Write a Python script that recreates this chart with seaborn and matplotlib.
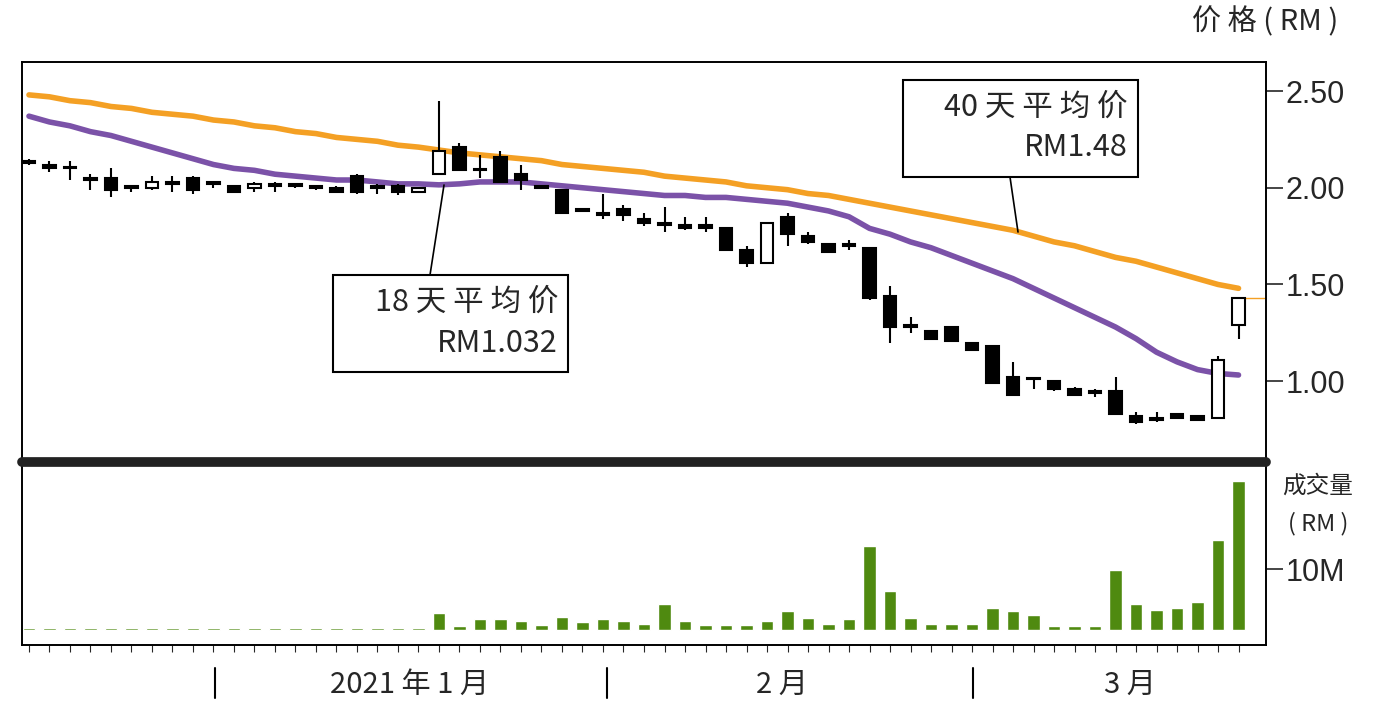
import numpy as np
import pandas as pd
import matplotlib
matplotlib.use("Agg")
import matplotlib.pyplot as plt
import seaborn as sns

opens  = [2.14,2.12,2.10,2.04,2.05,2.00,2.00,2.02,2.05,2.02,2.01,2.00,2.01,2.01,2.00,2.00,2.06,2.00,2.01,1.98,
          2.07,2.21,2.09,2.16,2.07,2.00,1.99,1.88,1.87,1.89,1.84,1.82,1.81,1.81,1.79,1.68,1.61,1.85,1.75,1.71,
          1.70,1.69,1.44,1.28,1.26,1.28,1.20,1.18,1.02,1.01,1.00,0.96,0.94,0.95,0.82,0.80,0.83,0.82,0.81,1.29]
closes = [2.13,2.10,2.10,2.04,1.99,2.00,2.03,2.02,1.99,2.02,1.98,2.02,2.02,2.01,2.00,1.98,1.98,2.00,1.98,2.00,
          2.19,2.09,2.09,2.03,2.04,2.00,1.87,1.88,1.86,1.86,1.82,1.81,1.79,1.79,1.68,1.61,1.82,1.76,1.72,1.67,
          1.70,1.43,1.28,1.28,1.22,1.21,1.16,0.99,0.93,1.01,0.96,0.93,0.94,0.83,0.79,0.80,0.81,0.80,1.11,1.43]
highs  = [2.15,2.14,2.14,2.07,2.10,2.01,2.06,2.06,2.06,2.03,2.01,2.03,2.03,2.02,2.01,2.01,2.07,2.02,2.02,2.00,
          2.45,2.23,2.17,2.19,2.12,2.00,1.99,1.88,1.97,1.91,1.87,1.90,1.85,1.85,1.79,1.70,1.82,1.87,1.77,1.71,
          1.73,1.69,1.49,1.33,1.26,1.28,1.20,1.18,1.10,1.02,1.00,0.97,0.96,1.02,0.84,0.84,0.83,0.82,1.13,1.43]
lows   = [2.12,2.08,2.04,1.99,1.95,1.98,1.99,1.98,1.97,2.00,1.98,1.98,1.98,2.00,1.99,1.98,1.97,1.97,1.96,1.98,
          2.07,2.09,2.05,2.03,1.99,2.00,1.87,1.88,1.84,1.83,1.80,1.77,1.78,1.77,1.68,1.59,1.61,1.70,1.71,1.67,
          1.68,1.42,1.20,1.25,1.22,1.21,1.16,0.99,0.93,0.96,0.95,0.93,0.92,0.83,0.78,0.79,0.81,0.80,0.81,1.22]
volume = [0.3,0.3,0.4,0.3,0.3,0.3,0.3,0.3,0.3,0.3,0.3,0.3,0.3,0.3,0.3,0.3,0.3,0.3,0.3,0.3,
          2.8,0.7,1.8,1.8,1.6,0.8,2.1,1.3,1.8,1.6,1.1,4.3,1.5,0.8,0.8,0.8,1.5,3.1,2.0,1.0,
          1.8,13.8,6.4,2.0,1.1,1.1,1.0,3.6,3.1,2.5,0.7,0.7,0.7,9.8,4.3,3.3,3.6,4.6,14.8,24.4]
ma40 = [2.48,2.47,2.45,2.44,2.42,2.41,2.39,2.38,2.37,2.35,2.34,2.32,2.31,2.29,2.28,2.26,2.25,2.24,2.22,2.21,
        2.195,2.18,2.17,2.16,2.15,2.14,2.12,2.11,2.10,2.09,2.08,2.06,2.05,2.04,2.03,2.01,2.00,1.99,1.97,1.96,
        1.94,1.92,1.90,1.88,1.86,1.84,1.82,1.80,1.78,1.75,1.72,1.70,1.67,1.64,1.62,1.59,1.56,1.53,1.50,1.48]
ma18 = [2.37,2.34,2.32,2.29,2.27,2.24,2.21,2.18,2.15,2.12,2.10,2.09,2.07,2.06,2.05,2.04,2.04,2.03,2.02,2.02,
        2.015,2.02,2.03,2.03,2.03,2.02,2.01,2.00,1.99,1.98,1.97,1.96,1.96,1.95,1.95,1.94,1.93,1.92,1.90,1.88,
        1.85,1.79,1.76,1.72,1.69,1.65,1.61,1.57,1.53,1.48,1.43,1.38,1.33,1.28,1.22,1.15,1.10,1.06,1.04,1.032]
price_ticks = [1.00, 1.50, 2.00, 2.50]
months = ["2021 年 1 月", "2 月", "3 月"]

FONT = "Noto Sans CJK SC"
plt.rcParams["font.family"] = FONT
sns.set_theme(style="white", rc={"font.family": FONT})

n = len(opens)
df = pd.DataFrame({"i": np.arange(n), "o": opens, "c": closes, "h": highs, "l": lows,
                   "v": volume, "ma40": ma40, "ma18": ma18})

XL = (-0.34, n + 0.34)

fig = plt.figure(figsize=(13.86, 7.10), dpi=100)
ax = fig.add_axes([22/1386, 1-458/710, 1244/1386, 396/710])
axv = fig.add_axes([22/1386, 1-645/710, 1244/1386, 180/710])

sns.lineplot(data=df, x="i", y="ma40", ax=ax, color="#f4a024", lw=4)
sns.lineplot(data=df, x="i", y="ma18", ax=ax, color="#7b52a8", lw=4)

w = 0.62
for r in df.itertuples():
    up = r.c > r.o
    top, bot = max(r.o, r.c), min(r.o, r.c)
    ax.vlines(r.i, r.l, r.h, color="black", lw=1.5, zorder=3)
    hgt = max(top - bot, 0.008)
    ax.bar(r.i, hgt, bottom=bot, width=w, color="white" if up else "black",
           edgecolor="black", lw=1.5, zorder=4)
ax.hlines(closes[-1], n - 1 + w/2, XL[1], color="#f4a024", lw=1.0, zorder=2)

ax.set_xlim(*XL)
ax.set_ylim(0.603, 2.65)
ax.yaxis.tick_right()
ax.set_yticks(price_ticks)
ax.set_yticklabels([f"{t:.2f}" for t in price_ticks], fontsize=22, family="Liberation Sans")
ax.tick_params(axis="y", direction="out", length=12, width=1.2, pad=2, right=True)
ax.set_xticks([])
ax.set_xlabel(""); ax.set_ylabel("")
for s in ax.spines.values():
    s.set_linewidth(1.4); s.set_color("black")
ax.spines["bottom"].set_visible(False)

sns.barplot(data=df, x="i", y="v", ax=axv, color="#4f8a10", width=0.6,
            native_scale=True, saturation=1)
axv.set_xlim(*XL)
axv.set_ylim(-2.4, 27)
axv.yaxis.tick_right()
axv.set_yticks([10])
axv.set_yticklabels(["10M"], fontsize=22, family="Liberation Sans")
axv.tick_params(axis="y", direction="out", length=12, width=1.2, pad=2)
axv.set_xticks(np.arange(n), minor=True)
axv.set_xticks([])
axv.tick_params(axis="x", which="minor", direction="out", length=5, width=0.8, bottom=True)
axv.set_xlabel(""); axv.set_ylabel("")
for s in axv.spines.values():
    s.set_linewidth(1.4); s.set_color("black")
axv.spines["top"].set_visible(False)

fig.add_artist(plt.Line2D([22/1386, 1266/1386], [1-462/710, 1-462/710], color="#222222", lw=7))

for xp in [215, 607, 973]:
    fig.add_artist(plt.Line2D([xp/1386, xp/1386], [1-668/710, 1-698/710], color="black", lw=1.5))
for xp, t in zip([410, 782, 1130], months):
    fig.text(xp/1386, 1-685/710, t, ha="center", va="center", fontsize=21)

fig.text(1265/1386, 1-22/710, "价 格 ( RM )", ha="center", va="center", fontsize=21)
fig.text(1318/1386, 1-486/710, "成交量", ha="center", va="center", fontsize=17)
fig.text(1318/1386, 1-524/710, "( RM )", ha="center", va="center", fontsize=17)

def box(x0, y0, x1, y1, l1, l2):
    fig.add_artist(plt.Rectangle((x0/1386, 1-y1/710), (x1-x0)/1386, (y1-y0)/710,
                                 fill=True, facecolor="white", edgecolor="black", lw=1.5, zorder=10))
    fig.text((x1-10)/1386, 1-(y0+27)/710, l1, ha="right", va="center", fontsize=22, zorder=11)
    fig.text((x1-10)/1386, 1-(y0+68)/710, l2, ha="right", va="center", fontsize=22, zorder=11)

fig.add_artist(plt.Line2D([1010/1386, 1018/1386], [1-177/710, 1-232/710], color="black", lw=1.2))
fig.add_artist(plt.Line2D([430/1386, 444/1386], [1-275/710, 1-185/710], color="black", lw=1.2))
box(903, 80, 1138, 177, "40 天 平 均 价", "RM1.48")
box(333, 275, 568, 372, "18 天 平 均 价", "RM1.032")

fig.savefig("out.png", dpi=100)
